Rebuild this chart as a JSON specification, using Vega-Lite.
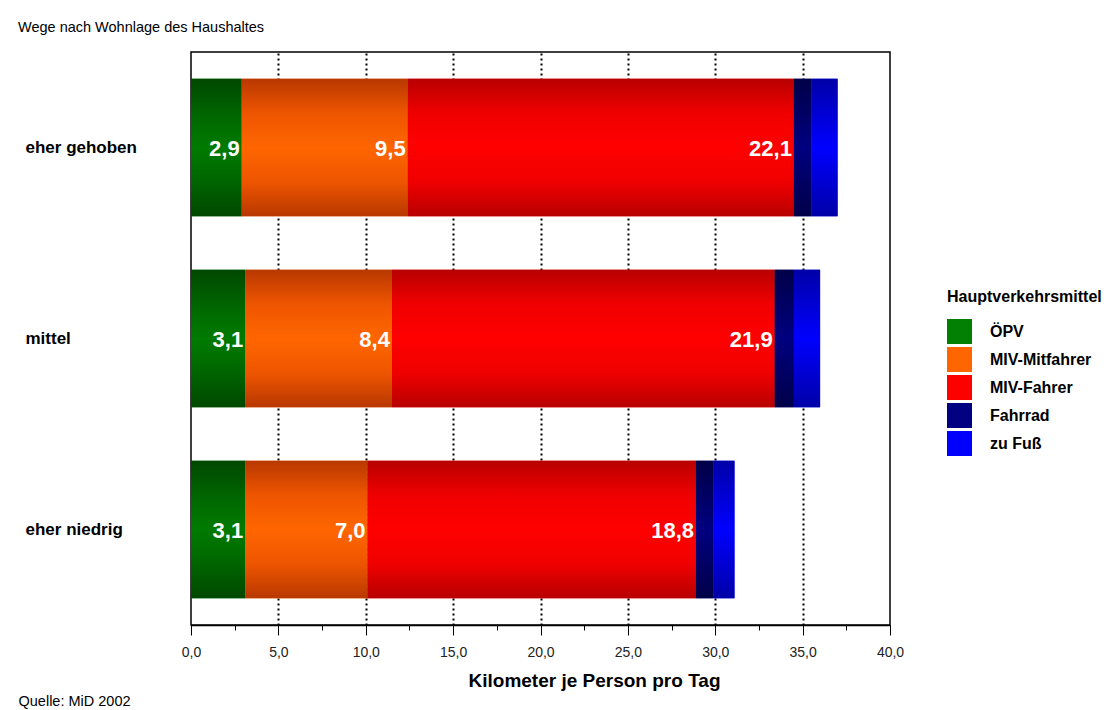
{
  "$schema": "https://vega.github.io/schema/vega-lite/v6.json",
  "width": 699,
  "height": 573,
  "autosize": {"type": "none"},
  "padding": {"left": 191, "top": 52, "right": 230, "bottom": 85},
  "background": "white",
  "config": {
    "font": "Liberation Sans",
    "locale": {"number": {"decimal": ",", "thousands": ".", "grouping": [3], "currency": ["", " €"]}},
    "view": {"stroke": "black", "strokeWidth": 1.5}
  },
  "title": {
    "text": "Wege nach Wohnlage des Haushaltes",
    "anchor": "start",
    "frame": "group",
    "dx": -173,
    "offset": 6,
    "baseline": "alphabetic",
    "fontSize": 14.5,
    "fontWeight": "normal",
    "color": "black"
  },
  "data": {
    "values": [
      {"lage": "eher gehoben", "mode": "ÖPV", "nr": 1, "value": 2.9},
      {"lage": "eher gehoben", "mode": "MIV-Mitfahrer", "nr": 2, "value": 9.5},
      {"lage": "eher gehoben", "mode": "MIV-Fahrer", "nr": 3, "value": 22.1},
      {"lage": "eher gehoben", "mode": "Fahrrad", "nr": 4, "value": 1.0},
      {"lage": "eher gehoben", "mode": "zu Fuß", "nr": 5, "value": 1.5},
      {"lage": "mittel", "mode": "ÖPV", "nr": 1, "value": 3.1},
      {"lage": "mittel", "mode": "MIV-Mitfahrer", "nr": 2, "value": 8.4},
      {"lage": "mittel", "mode": "MIV-Fahrer", "nr": 3, "value": 21.9},
      {"lage": "mittel", "mode": "Fahrrad", "nr": 4, "value": 1.1},
      {"lage": "mittel", "mode": "zu Fuß", "nr": 5, "value": 1.5},
      {"lage": "eher niedrig", "mode": "ÖPV", "nr": 1, "value": 3.1},
      {"lage": "eher niedrig", "mode": "MIV-Mitfahrer", "nr": 2, "value": 7.0},
      {"lage": "eher niedrig", "mode": "MIV-Fahrer", "nr": 3, "value": 18.8},
      {"lage": "eher niedrig", "mode": "Fahrrad", "nr": 4, "value": 1.0},
      {"lage": "eher niedrig", "mode": "zu Fuß", "nr": 5, "value": 1.2}
    ]
  },
  "transform": [
    {"stack": "value", "groupby": ["lage"], "sort": [{"field": "nr", "order": "ascending"}], "as": ["x0", "x1"]}
  ],
  "encoding": {
    "y": {
      "field": "lage",
      "type": "nominal",
      "sort": ["eher gehoben", "mittel", "eher niedrig"],
      "scale": {"paddingInner": 0.28, "paddingOuter": 0.14},
      "axis": {
        "title": "Quelle: MiD 2002",
        "titleAngle": 0,
        "titleX": -173,
        "titleY": 653,
        "titleAlign": "left",
        "titleBaseline": "alphabetic",
        "titleFontSize": 14.5,
        "titleFontWeight": "normal",
        "titleColor": "black",
        "labelAlign": "left",
        "labelPadding": 166,
        "labelFontSize": 17,
        "labelFontWeight": "bold",
        "labelColor": "black",
        "ticks": false,
        "domain": false
      }
    }
  },
  "layer": [
    {
      "mark": {"type": "bar"},
      "encoding": {
        "x": {
          "field": "x0",
          "type": "quantitative",
          "scale": {"domain": [0, 40], "nice": false},
          "axis": {
            "values": [0, 2.5, 5, 7.5, 10, 12.5, 15, 17.5, 20, 22.5, 25, 27.5, 30, 32.5, 35, 37.5, 40],
            "labelExpr": "datum.value % 5 === 0 ? format(datum.value, '.1f') : ''",
            "labelFontSize": 14,
            "labelColor": "#222222",
            "labelPadding": 10,
            "labelFlush": false,
            "tickColor": "black",
            "tickSize": {"condition": {"test": "datum.value % 5 === 0", "value": 10}, "value": 5},
            "domainColor": "black",
            "domainWidth": 1.5,
            "grid": true,
            "gridColor": "black",
            "gridWidth": 2,
            "gridDash": [2, 3],
            "gridOpacity": {"condition": {"test": "datum.value % 5 === 0 && datum.value > 0 && datum.value < 40", "value": 1}, "value": 0},
            "title": "Kilometer je Person pro Tag",
            "titleFontSize": 19,
            "titleFontWeight": "bold",
            "titleColor": "black",
            "titleX": 403,
            "titleY": 61,
            "titleAlign": "center",
            "titleBaseline": "alphabetic"
          }
        },
        "x2": {"field": "x1"},
        "color": {
          "field": "mode",
          "type": "nominal",
          "scale": {
            "domain": ["ÖPV", "MIV-Mitfahrer", "MIV-Fahrer", "Fahrrad", "zu Fuß"],
            "range": ["#008000", "#ff6600", "#ff0000", "#000080", "#0000ff"]
          },
          "legend": {
            "title": "Hauptverkehrsmittel",
            "orient": "none",
            "legendX": 756,
            "legendY": 237,
            "titleFontSize": 16,
            "titleFontWeight": "bold",
            "titleColor": "black",
            "titlePadding": 14,
            "symbolType": "square",
            "symbolSize": 625,
            "symbolStrokeWidth": 0,
            "symbolOpacity": 1,
            "labelFontSize": 16,
            "labelFontWeight": "bold",
            "labelColor": "black",
            "labelOffset": 18,
            "rowPadding": 3,
            "padding": 0
          }
        }
      }
    },
    {
      "transform": [{"filter": "datum.nr === 1"}],
      "mark": {"type": "bar", "color": {"gradient": "linear", "x1": 0, "y1": 0, "x2": 0, "y2": 1, "stops": [
        {"offset": 0, "color": "#004800"}, {"offset": 0.3, "color": "#006a00"}, {"offset": 0.5, "color": "#007a00"}, {"offset": 0.7, "color": "#006a00"}, {"offset": 1, "color": "#004800"}]}},
      "encoding": {"x": {"field": "x0", "type": "quantitative"}, "x2": {"field": "x1"}}
    },
    {
      "transform": [{"filter": "datum.nr === 2"}],
      "mark": {"type": "bar", "color": {"gradient": "linear", "x1": 0, "y1": 0, "x2": 0, "y2": 1, "stops": [
        {"offset": 0, "color": "#b83800"}, {"offset": 0.25, "color": "#ee5500"}, {"offset": 0.5, "color": "#ff6600"}, {"offset": 0.75, "color": "#ee5500"}, {"offset": 1, "color": "#b83800"}]}},
      "encoding": {"x": {"field": "x0", "type": "quantitative"}, "x2": {"field": "x1"}}
    },
    {
      "transform": [{"filter": "datum.nr === 3"}],
      "mark": {"type": "bar", "color": {"gradient": "linear", "x1": 0, "y1": 0, "x2": 0, "y2": 1, "stops": [
        {"offset": 0, "color": "#b80000"}, {"offset": 0.25, "color": "#f00000"}, {"offset": 0.5, "color": "#ff0000"}, {"offset": 0.75, "color": "#f00000"}, {"offset": 1, "color": "#b80000"}]}},
      "encoding": {"x": {"field": "x0", "type": "quantitative"}, "x2": {"field": "x1"}}
    },
    {
      "transform": [{"filter": "datum.nr === 4"}],
      "mark": {"type": "bar", "color": {"gradient": "linear", "x1": 0, "y1": 0, "x2": 0, "y2": 1, "stops": [
        {"offset": 0, "color": "#000048"}, {"offset": 0.5, "color": "#000080"}, {"offset": 1, "color": "#000048"}]}},
      "encoding": {"x": {"field": "x0", "type": "quantitative"}, "x2": {"field": "x1"}}
    },
    {
      "transform": [{"filter": "datum.nr === 5"}],
      "mark": {"type": "bar", "color": {"gradient": "linear", "x1": 0, "y1": 0, "x2": 0, "y2": 1, "stops": [
        {"offset": 0, "color": "#0000a8"}, {"offset": 0.5, "color": "#0000ff"}, {"offset": 1, "color": "#0000a8"}]}},
      "encoding": {"x": {"field": "x0", "type": "quantitative"}, "x2": {"field": "x1"}}
    },
    {
      "transform": [{"filter": "datum.nr <= 3"}],
      "mark": {"type": "text", "align": "right", "baseline": "middle", "dx": -2, "dy": 1, "color": "white", "fontSize": 22, "fontWeight": "bold"},
      "encoding": {
        "x": {"field": "x1", "type": "quantitative"},
        "text": {"field": "value", "type": "quantitative", "format": ".1f"}
      }
    }
  ]
}
